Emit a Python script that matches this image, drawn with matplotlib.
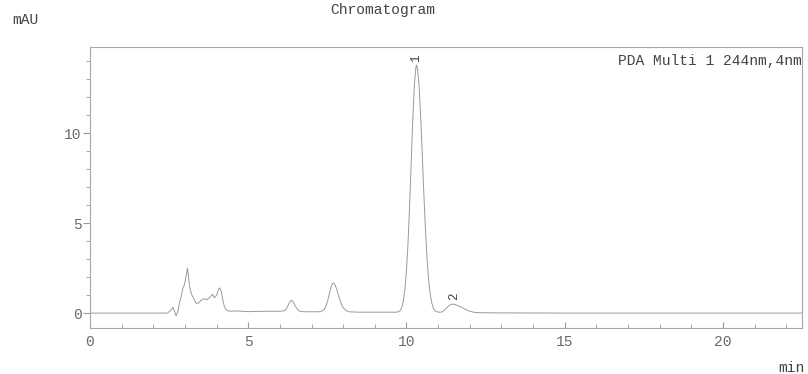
import numpy as np
import matplotlib.pyplot as plt
from matplotlib.ticker import MultipleLocator

# trace: time (min) and signal (mAU)
czas = [0.0, 1.0, 2.0, 2.45, 2.55, 2.62, 2.67, 2.72, 2.78, 2.83, 2.88, 2.93, 2.98,
        3.03, 3.08, 3.12, 3.16, 3.22, 3.28, 3.35, 3.42, 3.5, 3.6, 3.7, 3.8, 3.87,
        3.93, 4.0, 4.06, 4.1, 4.15, 4.2, 4.25, 4.3, 4.4, 4.6, 5.0, 5.5, 5.8, 6.0,
        6.15, 6.2, 6.25, 6.3, 6.36, 6.42, 6.48, 6.55, 6.6, 6.7, 7.0, 7.3, 7.4,
        7.45, 7.5, 7.55, 7.6, 7.65, 7.7, 7.75, 7.8, 7.85, 7.9, 7.95, 8.0, 8.1,
        8.2, 8.5, 9.0, 9.5, 9.7, 9.8, 9.85, 9.9, 9.95, 10.0, 10.05, 10.1, 10.15,
        10.2, 10.25, 10.3, 10.32, 10.35, 10.4, 10.45, 10.5, 10.55, 10.6, 10.65,
        10.7, 10.75, 10.8, 10.85, 10.9, 11.0, 11.1, 11.2, 11.3, 11.4, 11.46,
        11.55, 11.7, 11.85, 12.0, 12.15, 12.3, 13.0, 15.0, 18.0, 22.5]
sygnal = [0.0, 0.0, 0.0, 0.0, 0.15, 0.32, 0.1, -0.15, 0.1, 0.6, 0.9, 1.35, 1.55,
          2.0, 2.5, 1.9, 1.35, 1.0, 0.8, 0.55, 0.55, 0.7, 0.8, 0.75, 0.9, 1.05,
          0.85, 1.0, 1.3, 1.4, 1.2, 0.7, 0.35, 0.18, 0.1, 0.12, 0.08, 0.1, 0.1, 0.1,
          0.13, 0.22, 0.38, 0.58, 0.72, 0.62, 0.42, 0.22, 0.12, 0.08, 0.07, 0.08, 0.2,
          0.37, 0.62, 0.96, 1.35, 1.62, 1.68, 1.55, 1.3, 1.0, 0.72, 0.48, 0.3, 0.13,
          0.07, 0.05, 0.05, 0.05, 0.05, 0.13, 0.3, 0.65, 1.29, 2.35, 3.91, 5.98, 8.37,
          10.76, 12.68, 13.7, 13.8, 13.59, 12.63, 10.92, 8.81, 6.63, 4.66, 3.06,
          1.87, 1.07, 0.57, 0.28, 0.13, 0.05, 0.05, 0.15, 0.35, 0.48, 0.5,
          0.47, 0.36, 0.22, 0.1, 0.04, 0.02, 0.01, 0.0, 0.0, 0.0]

piki_nr = ["1", "2"]
piki_t = [10.32, 11.5]
piki_y = [14.15, 0.95]

SZARY = "#6a6a6a"
plt.rcParams["font.family"] = "Liberation Mono"
plt.rcParams["font.size"] = 10.5

fig = plt.figure(figsize=(8.08, 3.74), dpi=100)
ax = fig.add_axes([90 / 808, 46 / 374, 712 / 808, 281 / 374])

ax.plot(czas, sygnal, color="#9a9a9a", lw=0.7)
ax.set_xlim(0, 22.5)
ax.set_ylim(-0.83, 14.8)

for s in ax.spines.values():
    s.set_color("#a8a8a8")
    s.set_linewidth(0.8)

ax.xaxis.set_major_locator(MultipleLocator(5))
ax.xaxis.set_minor_locator(MultipleLocator(1))
ax.yaxis.set_major_locator(MultipleLocator(5))
ax.yaxis.set_minor_locator(MultipleLocator(1))
ax.tick_params(axis="x", which="major", direction="in", length=4, color="#999999",
               labelcolor=SZARY, pad=5)
ax.tick_params(axis="x", which="minor", direction="in", length=3, color="#999999")
ax.tick_params(axis="y", which="major", direction="out", length=5, color="#999999",
               labelcolor=SZARY, pad=1)
ax.tick_params(axis="y", which="minor", direction="out", length=3, color="#999999")

for nr, t, y in zip(piki_nr, piki_t, piki_y):
    ax.text(t, y, nr, rotation=90, ha="center", va="center", fontsize=9, color="#444444")

ax.text(1.0, 0.95, "PDA Multi 1 244nm,4nm", transform=ax.transAxes,
        ha="right", va="center", color="#444444")

fig.text(383 / 808, 1 - 10 / 374, "Chromatogram", ha="center", va="center", color="#444444")
fig.text(12 / 808, 1 - 20 / 374, "mAU", ha="left", va="center", color="#444444")
fig.text(805 / 808, 1 - 368 / 374, "min", ha="right", va="center", color="#444444")

fig.savefig("out.png", dpi=100)
